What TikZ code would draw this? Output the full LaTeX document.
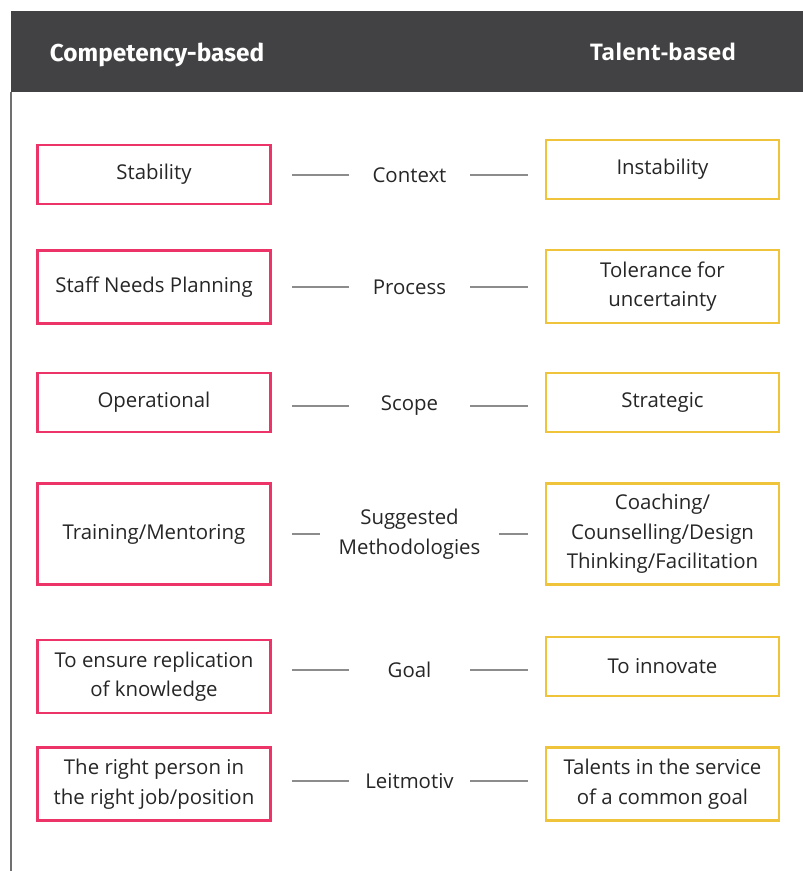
\documentclass[tikz,border=0pt]{standalone}
\usepackage{fontspec}
\setmainfont{Open Sans}
\newfontfamily\headfont{Fira Sans}
\usepackage{tikz}

\definecolor{band}{HTML}{424244}
\definecolor{comppink}{HTML}{EC3468}
\definecolor{talyellow}{HTML}{F0C43A}
\definecolor{inkgray}{HTML}{262626}
\definecolor{linkgray}{HTML}{8C8C8C}

\tikzset{
    compbox/.style={draw=comppink, line width=1.9pt, minimum width=175pt, align=center, text=inkgray, font=\fontsize{15.3}{22.2}\selectfont},
    talbox/.style={draw=talyellow, line width=1.9pt, minimum width=175pt, align=center, text=inkgray, font=\fontsize{15.3}{22.2}\selectfont},
    crit/.style={align=center, text=inkgray, font=\fontsize{15.3}{22.2}\selectfont, inner sep=0pt, minimum width=90.75pt},
    link/.style={draw=linkgray, line width=0.8pt, shorten <=15pt, shorten >=12.75pt}
}

\begin{document}
\begin{tikzpicture}[x=0.75pt, y=-0.75pt]
    \useasboundingbox (0, 0) rectangle (803, 871);
    %Header
    \fill[band] (11, 11) rectangle (803, 92);
    \draw[linkgray!80!black, line width=0.8pt] (11, 92) -- (11, 871);
    \node[text=white, font=\headfont\bfseries\fontsize{18.3}{22}\selectfont] (headcomp) at (157, 55) {Competency-based};
    \node[text=white, font=\bfseries\fontsize{17.2}{22}\selectfont] (headtal) at (663, 52) {Talent-based};

    %Rows
    \node[compbox, minimum height=44pt] (comp1) at (154, 174.5) {Stability};
    \node[crit] (crit1) at (409.5, 175) {Context};
    \node[talbox, minimum height=44pt] (tal1) at (662.5, 169.5) {Instability};

    \node[compbox, minimum height=55pt] (comp2) at (154, 287) {Staff Needs Planning};
    \node[crit] (crit2) at (409.5, 287) {Process};
    \node[talbox, minimum height=55pt] (tal2) at (662.5, 286.5) {Tolerance for\\uncertainty};

    \node[compbox, minimum height=44pt] (comp3) at (154, 402.5) {Operational};
    \node[crit] (crit3) at (409.5, 406) {Scope};
    \node[talbox, minimum height=44pt] (tal3) at (662.5, 402.5) {Strategic};

    \node[compbox, minimum height=76pt] (comp4) at (154, 534) {Training/Mentoring};
    \node[crit, minimum width=134pt] (crit4) at (409.5, 534) {Suggested\\Methodologies};
    \node[talbox, minimum height=76pt] (tal4) at (662.5, 534) {Coaching/\\Counselling/Design\\Thinking/Facilitation};

    \node[compbox, minimum height=55pt] (comp5) at (154, 676.5) {To ensure replication\\of knowledge};
    \node[crit] (crit5) at (409.5, 670) {Goal};
    \node[talbox, minimum height=44pt] (tal5) at (662.5, 666.5) {To innovate};

    \node[compbox, minimum height=55pt] (comp6) at (154, 784) {The right person in\\the right job/position};
    \node[crit] (crit6) at (409.5, 781) {Leitmotiv};
    \node[talbox, minimum height=55pt] (tal6) at (662.5, 784) {Talents in the service\\of a common goal};

    %Connectors
    \foreach \i in {1,...,6}{
        \draw[link, shorten >=0pt] (comp\i.east |- crit\i) -- (crit\i.west);
        \draw[link, shorten <=0pt] (crit\i.east) -- (tal\i.west |- crit\i);
    };
\end{tikzpicture}
\end{document}
